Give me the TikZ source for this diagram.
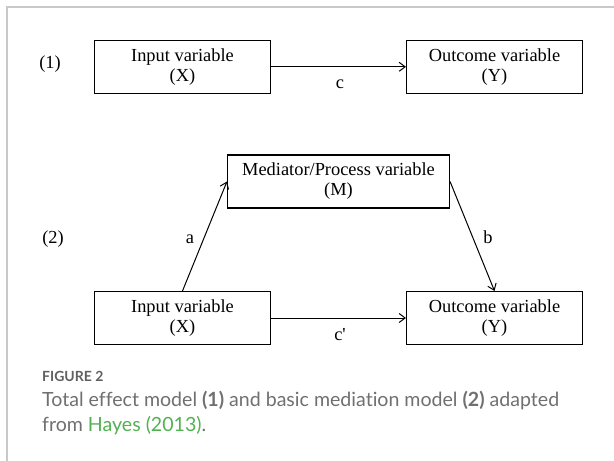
\documentclass[tikz,border=0pt]{standalone}
\usepackage{fontspec}
\setmainfont{Liberation Serif}
\newfontfamily\capfont[Ligatures={NoCommon,NoDiscretionary,NoContextual}]{Lato}
\usetikzlibrary{arrows.meta}
\definecolor{capgray}{RGB}{112,112,112}
\definecolor{figgray}{RGB}{96,96,96}
\definecolor{capgreen}{RGB}{82,178,82}
\definecolor{framegray}{RGB}{200,200,200}
\newlength\capw
\begin{document}
\settowidth\capw{\capfont\fontsize{10}{12}\selectfont Total effect model \textbf{(1)} and basic mediation model \textbf{(2)} adapted}
\begin{tikzpicture}[x=1pt,y=-1pt,
  varbox/.style={draw, line width=1.1pt, minimum width=176pt, minimum height=53pt, inner sep=0pt, align=center, font=\fontsize{18.4}{20}\selectfont},
  lab/.style={font=\fontsize{18.4}{20}\selectfont, inner sep=0pt, anchor=base},
  conn/.style={line width=1pt, -{Straight Barb[length=6pt,width=9pt]}},
  frame/.style={framegray, line width=2pt}]
\pgfmathsetmacro\capsz{10*517/\capw}
\tikzset{captext/.style={anchor=base west, inner sep=0pt, text=capgray, font=\capfont\fontsize{\capsz}{\capsz}\selectfont}}
\useasboundingbox (0,0) rectangle (614,461);
\fill[white] (0,0) rectangle (614,461);
\draw[frame] (7,461) -- (7,7) -- (614,7);
% model 1
\node[varbox] (in1) at (182.5,66.8) {Input variable\\(X)};
\node[varbox] (out1) at (494.5,66.8) {Outcome variable\\(Y)};
\node[lab] (l1) at (50,68) {(1)};
\node[lab] (c1) at (340,88) {c};
\draw[conn] (in1.east) -- (out1.west);
% model 2
\node[varbox, minimum width=222pt] (med) at (338.5,181.5) {Mediator/Process variable\\(M)};
\node[varbox] (in2) at (182.5,318) {Input variable\\(X)};
\node[varbox] (out2) at (494.5,318) {Outcome variable\\(Y)};
\node[lab] (l2) at (53,243) {(2)};
\node[lab] (la) at (190,243) {a};
\node[lab] (lb) at (488,243) {b};
\node[lab] (lc) at (340,340) {c\textquotesingle};
\draw[conn] (in2.north) -- (med.west);
\draw[conn] (med.east) -- (out2.north);
\draw[conn] (in2.east) -- (out2.west);
% caption
\node[captext, text=figgray, font=\capfont\bfseries\fontsize{14}{14}\selectfont] (fig) at (42,381) {FIGURE 2};
\node[captext] (cap1) at (42,406) {Total effect model \textbf{(1)} and basic mediation model \textbf{(2)} adapted};
\node[captext] (cap2) at (42,431) {from \textcolor{capgreen}{Hayes} \textcolor{capgreen}{(2013)}.};
\end{tikzpicture}
\end{document}
